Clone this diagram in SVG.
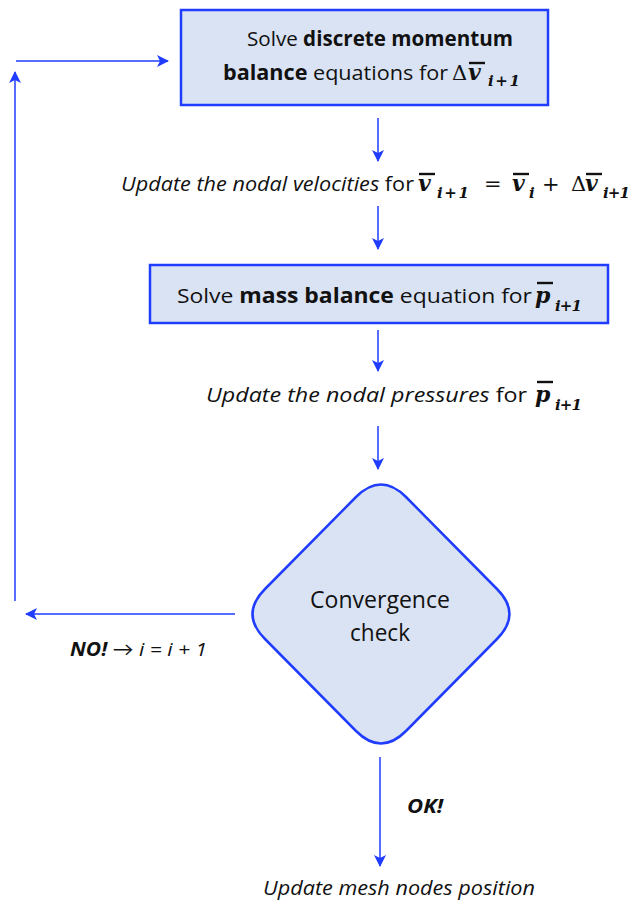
<svg xmlns="http://www.w3.org/2000/svg" width="634" height="904" viewBox="0 0 634 904">
<defs>
<marker id="ah" viewBox="0 0 12 12" refX="11" refY="6" markerWidth="12" markerHeight="12" markerUnits="userSpaceOnUse" orient="auto">
<path d="M0,0 L12,6 L0,12 L3,6 Z" fill="#1f3cff"/>
</marker>
<style>
.box{fill:#dae3f3;stroke:#1f3cff;stroke-width:2.5}
.con{fill:none;stroke:#1f3cff;stroke-width:1.5;marker-end:url(#ah)}
.t{font-family:"Open Sans",Lato,sans-serif;fill:#111}
.m{font-family:"DejaVu Serif",serif;font-weight:bold;font-style:italic;fill:#111;font-size:22px}
.s{font-family:"DejaVu Serif",serif;font-weight:bold;font-style:italic;fill:#111;font-size:15px}
.u{font-family:"DejaVu Serif",serif;fill:#111;font-size:21px}
.bar{stroke:#111;stroke-width:2.4}
</style>
</defs>
<rect width="634" height="904" fill="#fff"/>
<g id="connectors">
<line class="con" x1="378" y1="118" x2="378" y2="161"/>
<line class="con" x1="378" y1="206" x2="378" y2="249"/>
<line class="con" x1="378" y1="330" x2="378" y2="371"/>
<line class="con" x1="378" y1="426" x2="378" y2="469"/>
<line class="con" x1="380" y1="757" x2="380" y2="866"/>
<line class="con" x1="235" y1="614" x2="26" y2="614"/>
<line class="con" x1="15" y1="601" x2="15" y2="72"/>
<line class="con" x1="16" y1="61" x2="168" y2="61"/>
</g>
<g id="momentum">
<rect class="box" x="181" y="10" width="367" height="95"/>
<text class="t" x="247" y="46" font-size="20.5" textLength="266" lengthAdjust="spacingAndGlyphs">Solve <tspan font-weight="bold">discrete momentum</tspan></text>
<text class="t" x="223" y="80" font-size="20.5" textLength="225" lengthAdjust="spacingAndGlyphs"><tspan font-weight="bold">balance</tspan> equations for</text>
<text class="u" x="452" y="80">Δ</text>
<text class="m" x="468" y="80">v</text>
<line class="bar" x1="469" y1="63" x2="485" y2="63"/>
<text class="s" x="488" y="86" textLength="32" lengthAdjust="spacing">i+1</text>
</g>
<g id="velocities">
<text class="t" x="121" y="191" font-size="20" textLength="293" lengthAdjust="spacingAndGlyphs"><tspan font-style="italic">Update the nodal velocities</tspan> for</text>
<text class="m" x="418" y="191">v</text>
<line class="bar" x1="419" y1="174" x2="435" y2="174"/>
<text class="s" x="437" y="198" textLength="32" lengthAdjust="spacing">i+1</text>
<text class="u" x="484" y="191">=</text>
<text class="m" x="512" y="191">v</text>
<line class="bar" x1="513" y1="174" x2="529" y2="174"/>
<text class="s" x="529" y="198">i</text>
<text class="u" x="542" y="191">+</text>
<text class="u" x="571" y="191">Δ</text>
<text class="m" x="585" y="191">v</text>
<line class="bar" x1="586" y1="174" x2="602" y2="174"/>
<text class="s" x="603" y="198" textLength="27" lengthAdjust="spacing">i+1</text>
</g>
<g id="mass">
<rect class="box" x="150" y="265" width="458" height="58"/>
<text class="t" x="177" y="303" font-size="20.5" textLength="355" lengthAdjust="spacingAndGlyphs">Solve <tspan font-weight="bold">mass balance</tspan> equation for</text>
<text class="m" x="535" y="303">p</text>
<line class="bar" x1="537" y1="283" x2="553" y2="283"/>
<text class="s" x="555" y="311" textLength="27" lengthAdjust="spacing">i+1</text>
</g>
<g id="pressures">
<text class="t" x="206" y="402" font-size="20" textLength="321" lengthAdjust="spacingAndGlyphs"><tspan font-style="italic">Update the nodal pressures</tspan> for</text>
<text class="m" x="535" y="402">p</text>
<line class="bar" x1="537" y1="382" x2="553" y2="382"/>
<text class="s" x="555" y="410" textLength="27" lengthAdjust="spacing">i+1</text>
</g>
<g id="convergence">
<path class="box" d="M356,497 Q381,472 406,497 L497,589 Q522,614 497,639 L406,731 Q381,756 356,731 L265,639 Q240,614 265,589 Z"/>
<text class="t" x="310" y="608" font-size="23" textLength="140" lengthAdjust="spacingAndGlyphs">Convergence</text>
<text class="t" x="350" y="641" font-size="23" textLength="60" lengthAdjust="spacingAndGlyphs">check</text>
</g>
<g id="labels">
<text class="t" x="70" y="656" font-size="19" font-style="italic" textLength="137" lengthAdjust="spacingAndGlyphs"><tspan font-weight="bold">NO!</tspan> <tspan font-style="normal">→</tspan> i = i + 1</text>
<text class="t" x="407" y="813" font-size="19" font-style="italic" font-weight="bold" textLength="36" lengthAdjust="spacingAndGlyphs">OK!</text>
</g>
<g id="mesh">
<text class="t" x="263" y="895" font-size="20" font-style="italic" textLength="272" lengthAdjust="spacingAndGlyphs">Update mesh nodes position</text>
</g>
</svg>
